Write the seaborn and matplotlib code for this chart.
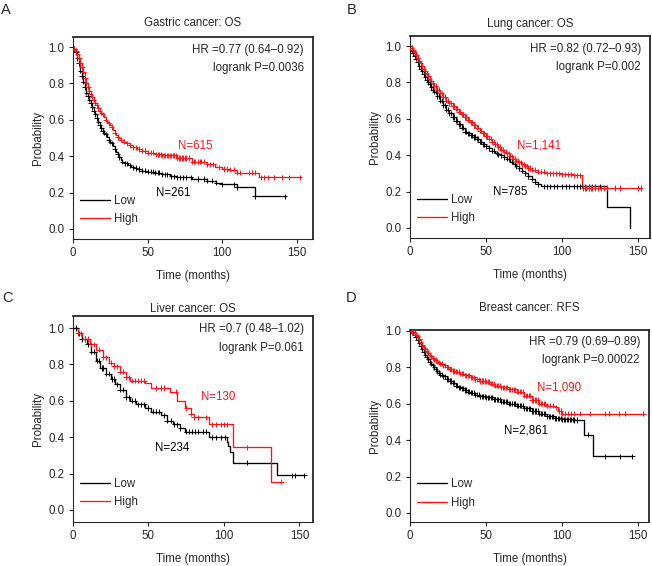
import numpy as np
import pandas as pd
import seaborn as sns
import matplotlib.pyplot as plt

sns.set_style("ticks")
plt.rcParams['font.family'] = ['Liberation Sans', 'DejaVu Sans']

# ---- Gastric cancer: OS ----
A_low_t = [0, 1, 2, 3, 4, 5, 6, 7, 8, 9, 10, 11, 12, 13, 14, 15, 16, 17, 18, 19, 20, 21, 22, 23, 24, 25, 26, 27, 28, 29, 30, 31, 32, 33, 35, 37, 39, 41, 43, 46, 50, 55, 60, 65, 70, 80, 90, 96, 100, 110, 122]
A_low_s = [1.0, 0.99, 0.97, 0.94, 0.91, 0.87, 0.84, 0.81, 0.78, 0.75, 0.73, 0.71, 0.69, 0.67, 0.65, 0.63, 0.61, 0.59, 0.57, 0.555, 0.54, 0.53, 0.52, 0.505, 0.49, 0.48, 0.47, 0.455, 0.44, 0.425, 0.41, 0.395, 0.38, 0.37, 0.36, 0.35, 0.34, 0.335, 0.33, 0.32, 0.315, 0.31, 0.30, 0.29, 0.285, 0.275, 0.265, 0.255, 0.245, 0.23, 0.18]
A_low_end = 143
A_low_cens = [1, 2, 3, 4, 5, 6, 7, 8, 9, 10, 11, 12, 13, 14, 15, 16, 17, 18, 19, 20, 21, 22, 24, 25, 26, 28, 30, 31, 33, 35, 36, 38, 40, 42, 44, 46, 48, 50, 52, 54, 55, 57, 58, 60, 62, 63, 66, 68, 70, 72, 74, 76, 79, 84, 88, 90, 93, 96, 100, 108, 110, 122, 142]
A_high_t = [0, 1, 2, 3, 4, 5, 6, 7, 8, 9, 10, 11, 12, 13, 14, 15, 16, 17, 18, 19, 20, 21, 22, 23, 24, 25, 26, 27, 28, 29, 30, 31, 32, 34, 36, 38, 40, 43, 46, 50, 55, 60, 70, 80, 90, 95, 100, 105, 110, 125]
A_high_s = [1.0, 0.99, 0.98, 0.96, 0.94, 0.91, 0.89, 0.86, 0.83, 0.80, 0.78, 0.76, 0.74, 0.725, 0.71, 0.695, 0.68, 0.665, 0.65, 0.64, 0.63, 0.615, 0.60, 0.59, 0.58, 0.57, 0.56, 0.545, 0.53, 0.515, 0.505, 0.50, 0.49, 0.48, 0.47, 0.46, 0.45, 0.44, 0.43, 0.42, 0.41, 0.405, 0.39, 0.37, 0.355, 0.34, 0.33, 0.325, 0.31, 0.285]
A_high_end = 153
A_high_cens = [1, 2, 3, 4, 5, 6, 7, 8, 9, 10, 11, 12, 13, 14, 15, 16, 17, 18, 19, 20, 22, 24, 26, 28, 30, 32, 34, 36, 38, 40, 42, 44, 46, 48, 50, 52, 54, 56, 57, 58, 59, 60, 61, 62, 63, 64, 65, 66, 67, 68, 69, 70, 71, 72, 73, 74, 75, 76, 78, 80, 81, 82, 84, 85, 86, 88, 90, 92, 94, 98, 101, 103, 105, 108, 110, 112, 118, 120, 122, 126, 128, 131, 135, 140, 145, 152]

# ---- Lung cancer: OS ----
B_low_t = [0, 1, 2, 3, 4, 5, 6, 7, 8, 9, 10, 11, 12, 13, 14, 15, 16, 18, 20, 22, 24, 26, 28, 30, 32, 34, 36, 38, 40, 42, 44, 46, 48, 50, 52, 54, 56, 58, 60, 62, 64, 66, 68, 70, 72, 74, 76, 78, 80, 82, 84, 86, 130, 145]
B_low_s = [1.0, 0.975, 0.96, 0.945, 0.93, 0.91, 0.89, 0.875, 0.86, 0.845, 0.83, 0.815, 0.80, 0.79, 0.775, 0.76, 0.75, 0.725, 0.70, 0.675, 0.65, 0.63, 0.61, 0.59, 0.57, 0.55, 0.53, 0.52, 0.51, 0.50, 0.49, 0.475, 0.46, 0.45, 0.44, 0.425, 0.41, 0.405, 0.40, 0.39, 0.38, 0.365, 0.35, 0.34, 0.33, 0.315, 0.30, 0.285, 0.27, 0.255, 0.24, 0.23, 0.115, 0.0]
B_low_end = 145
B_low_cens = [1, 2, 3, 4, 5, 6, 7, 8, 9, 10, 11, 12, 13, 14, 15, 16, 17, 18, 19, 20, 21, 22, 23, 24, 25, 26, 27, 28, 29, 30, 31, 32, 33, 34, 35, 36, 37, 38, 39, 40, 41, 42, 43, 44, 45, 46, 47, 48, 49, 50, 52, 54, 55, 57, 58, 60, 62, 64, 65, 67, 69, 70, 72, 74, 76, 78, 80, 82, 84, 88, 90, 92, 95, 97, 100, 103, 105, 108, 110, 112, 115, 118, 120, 122, 125]
B_high_t = [0, 1, 2, 3, 4, 5, 6, 7, 8, 9, 10, 11, 12, 13, 14, 15, 16, 18, 20, 22, 24, 26, 28, 30, 32, 34, 36, 38, 40, 42, 44, 46, 48, 50, 52, 54, 56, 58, 60, 62, 64, 66, 68, 70, 72, 74, 76, 78, 80, 84, 90, 100, 108, 113]
B_high_s = [1.0, 0.99, 0.98, 0.965, 0.95, 0.935, 0.92, 0.905, 0.89, 0.875, 0.86, 0.85, 0.835, 0.82, 0.81, 0.795, 0.78, 0.76, 0.74, 0.72, 0.70, 0.685, 0.67, 0.655, 0.64, 0.625, 0.61, 0.595, 0.58, 0.565, 0.55, 0.535, 0.52, 0.505, 0.49, 0.475, 0.46, 0.445, 0.43, 0.42, 0.41, 0.395, 0.38, 0.37, 0.36, 0.35, 0.34, 0.33, 0.32, 0.31, 0.30, 0.295, 0.29, 0.22]
B_high_end = 152
B_high_cens = [1, 2, 3, 4, 5, 6, 7, 8, 9, 10, 11, 12, 13, 14, 15, 16, 17, 18, 19, 20, 21, 22, 23, 24, 25, 26, 27, 28, 29, 30, 31, 32, 33, 34, 35, 36, 37, 38, 39, 40, 41, 42, 43, 44, 45, 46, 47, 48, 49, 50, 51, 52, 53, 54, 55, 56, 57, 58, 59, 60, 61, 62, 63, 64, 65, 66, 67, 68, 69, 70, 71, 72, 73, 74, 75, 76, 77, 78, 79, 80, 82, 84, 86, 88, 90, 92, 94, 96, 98, 100, 102, 104, 106, 108, 110, 112, 114, 115, 116, 118, 119, 120, 122, 124, 126, 128, 130, 135, 138, 150, 152]

# ---- Liver cancer: OS ----
C_low_t = [0, 3, 6, 9, 12, 15, 18, 22, 25, 28, 31, 35, 38, 42, 48, 52, 58, 62, 66, 71, 74, 90, 102, 103, 104, 106, 135]
C_low_s = [1.0, 0.97, 0.94, 0.91, 0.87, 0.82, 0.78, 0.75, 0.72, 0.69, 0.66, 0.62, 0.60, 0.58, 0.56, 0.54, 0.52, 0.49, 0.47, 0.45, 0.43, 0.40, 0.375, 0.35, 0.32, 0.26, 0.19]
C_low_end = 154
C_low_cens = [2, 4, 6, 8, 10, 12, 14, 16, 17, 19, 20, 22, 24, 26, 27, 29, 31, 33, 35, 37, 39, 41, 43, 45, 47, 50, 53, 55, 57, 60, 62, 65, 67, 69, 71, 75, 77, 79, 81, 83, 86, 88, 92, 95, 98, 101, 115, 145, 147, 153]
C_high_t = [0, 3, 6, 11, 15, 20, 24, 27, 31, 35, 38, 48, 52, 64, 69, 74, 78, 80, 90, 106, 131]
C_high_s = [1.0, 0.97, 0.94, 0.91, 0.88, 0.84, 0.81, 0.79, 0.76, 0.73, 0.71, 0.70, 0.67, 0.65, 0.60, 0.56, 0.53, 0.51, 0.47, 0.345, 0.155]
C_high_end = 138
C_high_cens = [3, 5, 8, 10, 12, 14, 17, 20, 22, 25, 27, 29, 31, 33, 35, 37, 39, 41, 43, 45, 47, 55, 58, 60, 68, 75, 78, 80, 83, 88, 92, 95, 98, 100, 102, 115, 138]

# ---- Breast cancer: RFS ----
D_low_t = [0, 1, 2, 3, 4, 5, 6, 7, 8, 9, 10, 11, 12, 13, 14, 15, 16, 17, 18, 19, 20, 22, 24, 26, 28, 30, 32, 34, 36, 38, 40, 43, 46, 50, 55, 60, 65, 70, 75, 80, 85, 90, 95, 100, 108, 114, 120]
D_low_s = [1.0, 0.995, 0.99, 0.98, 0.965, 0.95, 0.935, 0.915, 0.90, 0.885, 0.87, 0.855, 0.845, 0.83, 0.82, 0.81, 0.80, 0.79, 0.78, 0.77, 0.76, 0.75, 0.735, 0.725, 0.715, 0.70, 0.69, 0.685, 0.675, 0.665, 0.66, 0.65, 0.64, 0.635, 0.625, 0.61, 0.60, 0.59, 0.575, 0.56, 0.545, 0.53, 0.52, 0.515, 0.51, 0.43, 0.31]
D_low_end = 146
D_low_cens = [1, 2, 3, 4, 5, 6, 7, 8, 9, 10, 11, 12, 13, 14, 15, 16, 17, 18, 19, 20, 21, 22, 23, 24, 25, 26, 27, 28, 29, 30, 31, 32, 33, 34, 35, 36, 37, 38, 39, 40, 41, 42, 43, 44, 45, 46, 47, 48, 49, 50, 51, 52, 53, 54, 55, 56, 57, 58, 59, 60, 61, 62, 63, 64, 65, 66, 67, 68, 69, 70, 71, 72, 73, 74, 75, 76, 77, 78, 79, 80, 81, 82, 83, 84, 85, 86, 87, 88, 89, 90, 91, 92, 93, 94, 95, 96, 97, 98, 99, 100, 101, 102, 103, 104, 105, 106, 107, 108, 110, 117, 128, 138, 146]
D_high_t = [0, 1, 2, 3, 4, 5, 6, 7, 8, 9, 10, 11, 12, 13, 14, 15, 16, 17, 18, 19, 20, 22, 24, 26, 28, 30, 33, 36, 40, 43, 46, 50, 53, 56, 60, 65, 70, 75, 80, 85, 90, 95, 97, 100]
D_high_s = [1.0, 0.998, 0.995, 0.99, 0.98, 0.97, 0.955, 0.94, 0.925, 0.91, 0.90, 0.89, 0.88, 0.87, 0.86, 0.85, 0.845, 0.84, 0.83, 0.825, 0.82, 0.81, 0.80, 0.79, 0.78, 0.775, 0.765, 0.755, 0.745, 0.735, 0.725, 0.72, 0.71, 0.70, 0.69, 0.68, 0.665, 0.645, 0.62, 0.60, 0.59, 0.58, 0.56, 0.545]
D_high_end = 153
D_high_cens = [1, 2, 3, 4, 5, 6, 7, 8, 9, 10, 11, 12, 13, 14, 15, 16, 17, 18, 19, 20, 21, 22, 23, 24, 25, 26, 27, 28, 29, 30, 31, 32, 33, 34, 35, 36, 37, 38, 39, 40, 41, 42, 43, 44, 45, 46, 47, 48, 49, 50, 51, 52, 53, 54, 55, 56, 57, 58, 59, 60, 61, 62, 63, 64, 65, 66, 67, 68, 69, 70, 71, 72, 73, 74, 75, 76, 77, 78, 79, 80, 81, 82, 83, 84, 85, 86, 87, 88, 89, 90, 92, 94, 96, 98, 99, 100, 102, 104, 106, 108, 112, 118, 128, 131, 137, 141, 153]

W, H = 652, 566

# box = (left, top, right, bottom) in pixels; letter and title positions in pixels
panels = [
    dict(letter=("A", 1, 10), title=("Gastric cancer: OS", 23), hr="HR =0.77 (0.64\u20130.92)", p="logrank P=0.0036",
         low=(A_low_t, A_low_s, A_low_end, A_low_cens), high=(A_high_t, A_high_s, A_high_end, A_high_cens),
         n_low=("N=261", 67, 0.20), n_high=("N=615", 82, 0.455),
         box=(73, 37, 313, 239), xlim=(0, 161), ylim=(-0.055, 1.055)),
    dict(letter=("B", 347, 10), title=("Lung cancer: OS", 24), hr="HR =0.82 (0.72\u20130.93)", p="logrank P=0.002",
         low=(B_low_t, B_low_s, B_low_end, B_low_cens), high=(B_high_t, B_high_s, B_high_end, B_high_cens),
         n_low=("N=785", 66, 0.20), n_high=("N=1,141", 85, 0.455),
         box=(410, 36, 650, 238), xlim=(0, 158), ylim=(-0.055, 1.055)),
    dict(letter=("C", 2, 298), title=("Liver cancer: OS", 309), hr="HR =0.7 (0.48\u20131.02)", p="logrank P=0.061",
         low=(C_low_t, C_low_s, C_low_end, C_low_cens), high=(C_high_t, C_high_s, C_high_end, C_high_cens),
         n_low=("N=234", 66, 0.34), n_high=("N=130", 96, 0.62),
         box=(73, 316, 313, 522), xlim=(0, 159), ylim=(-0.066, 1.066)),
    dict(letter=("D", 346, 298), title=("Breast cancer: RFS", 308), hr="HR =0.79 (0.69\u20130.89)", p="logrank P=0.00022",
         low=(D_low_t, D_low_s, D_low_end, D_low_cens), high=(D_high_t, D_high_s, D_high_end, D_high_cens),
         n_low=("N=2,861", 76, 0.455), n_high=("N=1,090", 98, 0.687),
         box=(410, 330, 649, 522), xlim=(0, 157), ylim=(-0.05, 1.005)),
]

colors = {"Low": "black", "High": "#ff1414"}
FS = 8.3


def surv_at(t, s, x):
    # value of the KM step function at time x
    idx = np.searchsorted(t, x, side="right") - 1
    return np.asarray(s)[idx]


fig = plt.figure(figsize=(W / 100, H / 100), dpi=100)

for p in panels:
    l, t_, r, b = p["box"]
    ax = fig.add_axes([l / W, 1 - b / H, (r - l) / W, (b - t_) / H])
    curves = []
    marks = []
    for grp in ["Low", "High"]:
        t, s, end, cens = p["low"] if grp == "Low" else p["high"]
        curves.append(pd.DataFrame({"time": list(t) + [end], "prob": list(s) + [s[-1]], "group": grp}))
        marks.append(pd.DataFrame({"time": cens, "prob": surv_at(t, s, cens), "group": grp}))
    curves = pd.concat(curves)
    marks = pd.concat(marks)

    sns.lineplot(data=curves, x="time", y="prob", hue="group", hue_order=["Low", "High"],
                 palette=colors, estimator=None, sort=False, drawstyle="steps-post",
                 linewidth=0.95, ax=ax)
    sns.scatterplot(data=marks, x="time", y="prob", hue="group", hue_order=["Low", "High"],
                    palette=colors, marker="+", s=14, linewidth=0.7, legend=False, ax=ax, zorder=3)

    ax.set_xlim(*p["xlim"])
    ax.set_ylim(*p["ylim"])
    ax.set_xticks([0, 50, 100, 150])
    ax.set_yticks([0.0, 0.2, 0.4, 0.6, 0.8, 1.0])
    ax.set_yticklabels(["0.0", "0.2", "0.4", "0.6", "0.8", "1.0"])
    ax.tick_params(labelsize=FS, length=3, width=0.8, pad=3)
    ax.set_xlabel("Time (months)", fontsize=FS, labelpad=8)
    ax.set_ylabel("Probability", fontsize=FS, labelpad=3)
    for side in ["top", "right"]:
        ax.spines[side].set_linewidth(1.3)
    for side in ["left", "bottom"]:
        ax.spines[side].set_linewidth(0.8)

    ax.legend(loc="lower left", bbox_to_anchor=(0.012, 0.045), borderaxespad=0, frameon=False,
              fontsize=FS, handlelength=2.6, handletextpad=0.3, labelspacing=0.55)

    fig.text(0.5 * (l + r) / W, 1 - p["title"][1] / H, p["title"][0], ha="center", va="center", fontsize=FS)
    ax.text(0.962, 0.935, p["hr"], transform=ax.transAxes, ha="right", va="center", fontsize=FS)
    ax.text(0.962, 0.845, p["p"], transform=ax.transAxes, ha="right", va="center", fontsize=FS)
    lbl, x, y = p["n_low"]
    ax.text(x, y, lbl, ha="center", va="center", fontsize=FS, color="black")
    lbl, x, y = p["n_high"]
    ax.text(x, y, lbl, ha="center", va="center", fontsize=FS, color=colors["High"])

    letter, lx, ly = p["letter"]
    fig.text(lx / W, 1 - ly / H, letter, fontsize=10.5, ha="left", va="center")

fig.savefig("out.png", dpi=100)
